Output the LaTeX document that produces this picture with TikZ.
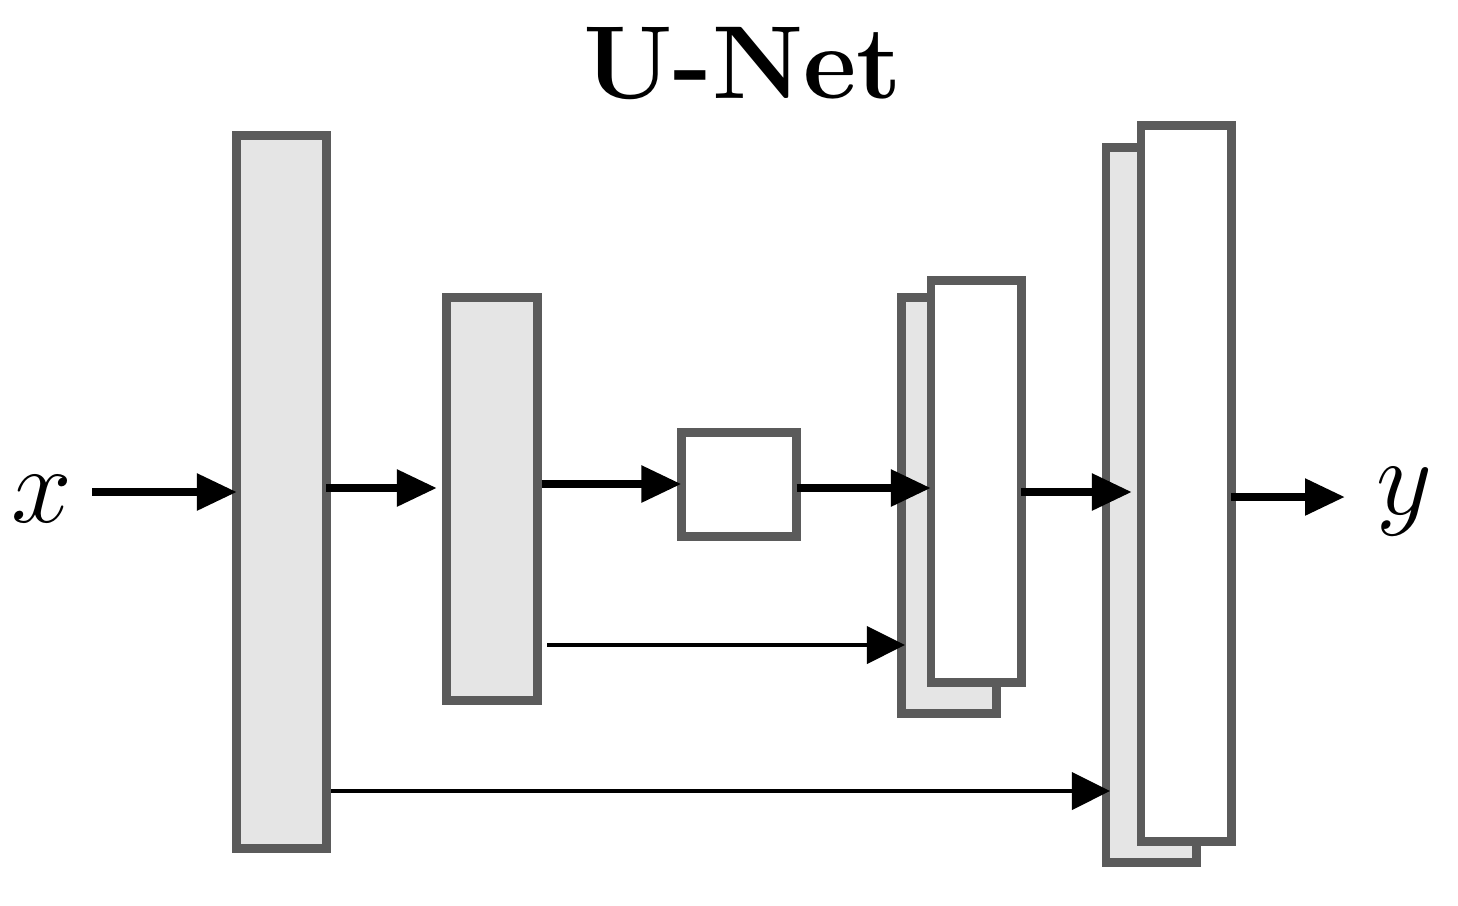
\RequirePackage{fix-cm}
\documentclass[tikz,border=0pt]{standalone}
\usetikzlibrary{arrows.meta,calc}
\definecolor{bordergray}{HTML}{5B5B5B}
\definecolor{fillgray}{HTML}{E5E5E5}
\begin{document}
\begin{tikzpicture}[x=0.01cm,y=-0.01cm,
  blk/.style={draw=bordergray,line width=2.55pt,rectangle,inner sep=0pt,outer sep=0pt},
  grayblk/.style={blk,fill=fillgray},
  whiteblk/.style={blk,fill=white},
  thickarr/.style={line width=2.4pt,-{Triangle[length=0.40cm,width=0.35cm]}},
  thinarr/.style={line width=1.1pt,-{Triangle[length=0.38cm,width=0.37cm]}},
  lbl/.style={inner sep=0pt,font=\fontsize{31}{37}\selectfont}
]
\useasboundingbox (0,0) rectangle (1458,905);
\node[inner sep=0pt,font=\fontsize{29.5}{35}\selectfont\bfseries] (title) at (743,64) {U-Net};

\node[grayblk,minimum width=0.89cm,minimum height=7.12cm] (b1) at (281.5,492) {};
\node[grayblk,minimum width=0.90cm,minimum height=4.02cm] (b2) at (492,499) {};
\node[whiteblk,minimum width=1.15cm,minimum height=1.035cm] (b3) at (739,484.5) {};
\node[grayblk,minimum width=0.945cm,minimum height=4.15cm] (b4b) at (948.75,505.5) {};
\node[whiteblk,minimum width=0.90cm,minimum height=4.01cm] (b4f) at (976,481.5) {};
\node[grayblk,minimum width=0.90cm,minimum height=7.14cm] (b5b) at (1151,505) {};
\node[whiteblk,minimum width=0.90cm,minimum height=7.15cm] (b5f) at (1186,483.5) {};

\node[lbl] (xin) at (42,499) {$x$};
\node[lbl] (yout) at (1404,502) {$y$};

\coordinate (s1) at (92,492);
\coordinate (e6) at (1345,497);
\coordinate (s7) at (547,645);

\draw[thickarr] (s1) -- (b1.west);
\draw[thickarr] (b1.east |- 0,488) -- ([xshift=-0.1cm]b2.west |- 0,488);
\draw[thickarr] ([xshift=0.045cm]b2.east |- 0,484) -- (b3.west |- 0,484);
\draw[thickarr] (b3.east |- 0,488) -- (b4f.west |- 0,488);
\draw[thickarr] (b4f.east |- 0,492) -- ([xshift=-0.09cm]b5f.west |- 0,492);
\draw[thickarr] (b5f.east |- 0,497) -- (e6);
\draw[thinarr] (s7) -- ([xshift=0.035cm]b4b.west |- s7);
\draw[thinarr] ([xshift=0.05cm]b1.east |- 0,791) -- ([xshift=0.04cm]b5b.west |- 0,791);
\end{tikzpicture}
\end{document}
